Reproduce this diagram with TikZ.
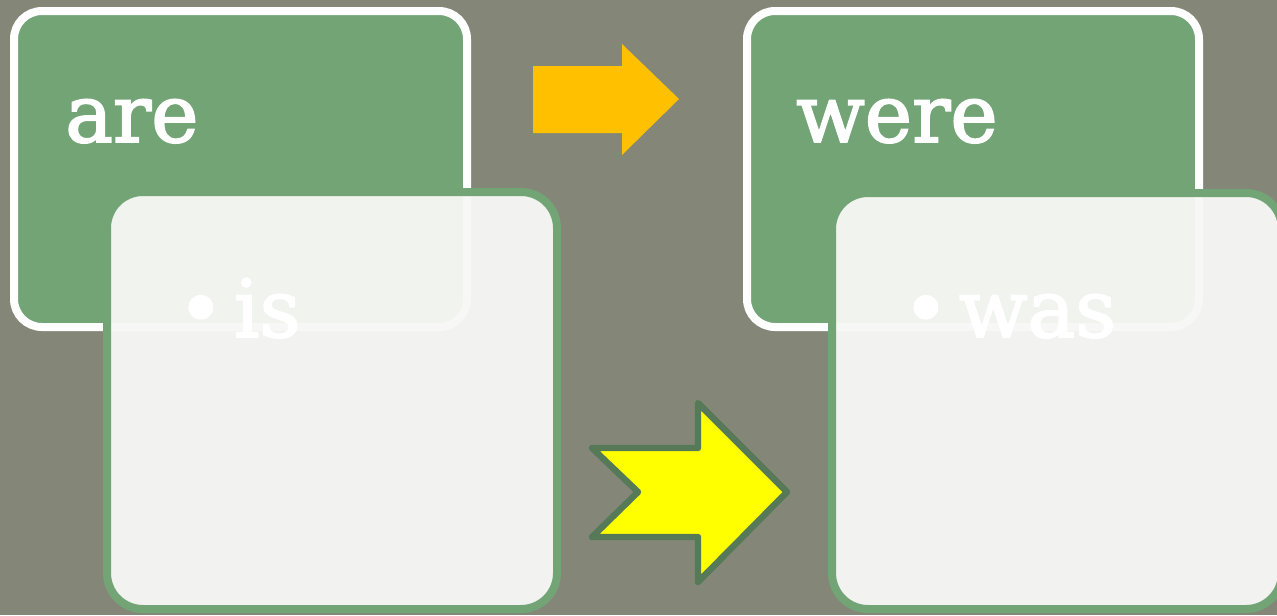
\documentclass[tikz,border=0pt]{standalone}
\usepackage{fontspec}
\setmainfont{DejaVu Serif}
\newfontfamily\slabfont{DejaVu Serif}[FakeBold=2.2]
\usepackage{tikz}
\usetikzlibrary{positioning}
\definecolor{bggray}{RGB}{132,135,120}
\definecolor{boxgreen}{RGB}{114,164,117}
\definecolor{boxlight}{RGB}{247,247,245}
\definecolor{arrowdark}{RGB}{86,122,88}
\definecolor{arroworange}{RGB}{255,192,0}
\definecolor{arrowyellow}{RGB}{255,255,0}
\tikzset{
  greenbox/.style={draw=white, fill=boxgreen, line width=6pt, rounded corners=21pt},
  lightbox/.style={draw=boxgreen, fill=boxlight, fill opacity=0.96, line width=6pt, rounded corners=27pt},
  word/.style={anchor=base west, inner sep=0pt, text=white, font=\slabfont\fontsize{60}{72}\selectfont}
}
\begin{document}
\begin{tikzpicture}[x=0.75pt, y=-0.75pt]
  \useasboundingbox (0,0) rectangle (1277,615);
  \fill[bggray] (0,0) rectangle (1277,615);
  % present tense
  \draw[greenbox] (14,11) rectangle (467,327);
  \node[word] (are) at (65,142) {are};
  % past tense
  \draw[greenbox] (747,11) rectangle (1199,327);
  \node[word] (were) at (796,142) {were};
  % singular forms
  \draw[lightbox] (107,192) rectangle (557,609);
  \node[word] (is) at (177,337) {•\hspace{0.12em}is};
  \draw[lightbox] (832,193) rectangle (1282,609);
  \node[word] (was) at (902,337) {•\hspace{0.12em}was};
  % block arrows
  \fill[arroworange] (533,66) -- (622,66) -- (622,44) -- (679,99) -- (622,155)
    -- (622,133) -- (533,133) -- cycle;
  \filldraw[fill=arrowyellow, draw=arrowdark, line width=4.8pt, line join=round]
    (592,448) -- (698,448) -- (698,403) -- (787,492) -- (698,582) -- (698,537)
    -- (592,537) -- (638,492) -- cycle;
\end{tikzpicture}
\end{document}
